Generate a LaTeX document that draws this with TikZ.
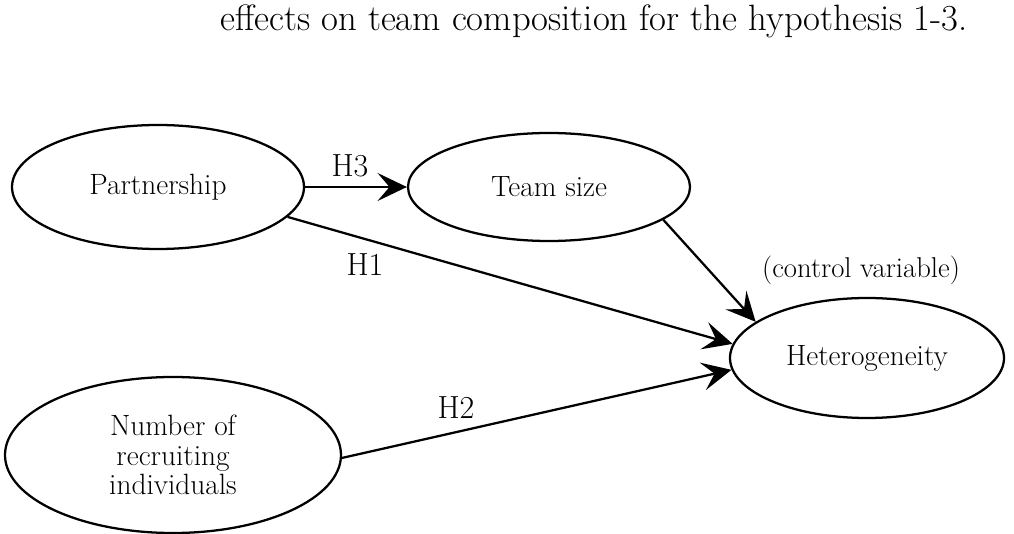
\documentclass[tikz,border=0pt]{standalone}
\usetikzlibrary{shapes.geometric,arrows.meta}
\begin{document}
\begin{tikzpicture}[x=0.75pt,y=-0.75pt,
  var/.style={draw,ellipse,line width=1.7pt,inner sep=0pt,font=\fontsize{22}{22}\selectfont,align=center},
  link/.style={line width=1.7pt,-{Stealth[length=22pt,width=21pt,inset=9pt]}},
  lab/.style={font=\fontsize{24}{24}\selectfont}]
\useasboundingbox (0,0) rectangle (1014,534);
\node[font=\fontsize{27.5}{30}\selectfont,anchor=base west,inner sep=0pt] (title) at (220,31) {effects on team composition for the hypothesis 1-3.};
\node[var,minimum width=292pt*0.75,minimum height=124pt*0.75] (p) at (158,187) {Partnership};
\node[var,minimum width=282pt*0.75,minimum height=108pt*0.75] (t) at (549,187) {Team size};
\node[var,minimum width=274pt*0.75,minimum height=120pt*0.75] (h) at (867,358) {Heterogeneity};
\node[var,minimum width=336pt*0.75,minimum height=156pt*0.75] (n) at (173,455) {Number of\\recruiting\\individuals};
\node[lab] (l3) at (350,166) {H3};
\node[lab] (l1) at (365,265) {H1};
\node[lab] (l2) at (456,408) {H2};
\node[font=\fontsize{21.5}{22}\selectfont] (cv) at (861,270) {(control variable)};
\draw[link] (p.east) -- (t.west);
\draw[link] (p.-13.6) -- (h.174);
\draw[link] (t.-16.8) -- (h.162);
\draw[link] (n.-1) -- (h.185.5);
\end{tikzpicture}
\end{document}
